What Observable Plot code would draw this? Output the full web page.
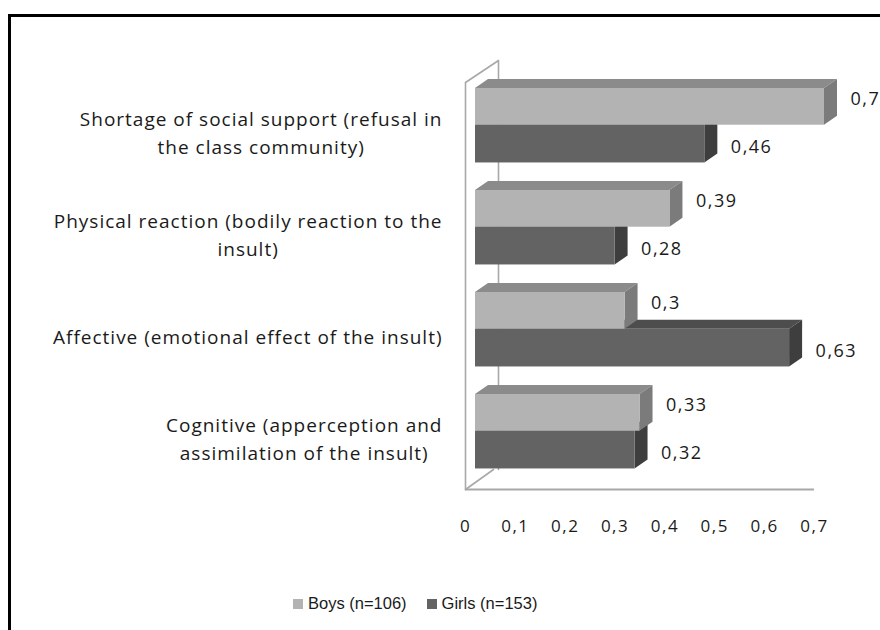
<!DOCTYPE html>
<html>
<head>
<meta charset="utf-8">
<script src="https://cdn.jsdelivr.net/npm/d3@7"></script>
<script src="https://cdn.jsdelivr.net/npm/@observablehq/plot@0.6"></script>
<style>
  html, body { margin: 0; padding: 0; background: #fff; }
  #page { position: relative; width: 880px; height: 630px; overflow: hidden; background: #fff; }
  #frame { position: absolute; left: 8px; top: 14px; width: 900px; height: 700px;
           border-left: 3px solid #000; border-top: 3px solid #000; box-sizing: border-box; }
  #chart { position: absolute; left: 0; top: 0; }
  #chart g[font-size="19"], #chart g[font-size="19"] text { letter-spacing: 1px; }
  #chart g[font-size="18"], #chart g[font-size="18"] text { letter-spacing: 1.5px; }
  #chart g[aria-label="x-axis tick label"] text, #chart g[aria-label="x-axis"] text { letter-spacing: 1.5px; }
  #legend { position: absolute; left: 293px; top: 594px; display: flex; align-items: center;
            font-family: "Liberation Sans Narrow", "Liberation Sans", sans-serif; font-size: 16.5px; color: #1a1a1a; }
  #legend .item { display: flex; align-items: center; margin-right: 20px; }
  #legend .sw { width: 10px; height: 10px; margin-right: 5px; }
</style>
</head>
<body>
<div id="page">
  <div id="frame"></div>
  <div id="chart"></div>
  <div id="legend"></div>
</div>
<script>
// ---- data ----
const categories = [
  "Shortage of social support (refusal in\nthe class community)",
  "Physical reaction (bodily reaction to the\ninsult)",
  "Affective (emotional effect of the insult)",
  "Cognitive (apperception and\nassimilation of the insult)"
];
const seriesNames = ["Boys (n=106)", "Girls (n=153)"];
const boys = [0.7, 0.39, 0.3, 0.33];
const girls = [0.46, 0.28, 0.63, 0.32];
const xTicks = [0, 0.1, 0.2, 0.3, 0.4, 0.5, 0.6, 0.7];

// ---- styling / layout ----
const colors = {
  boys: {front: "#b3b3b3", top: "#8b8b8b", side: "#7b7b7b"},
  girls: {front: "#636363", top: "#4d4d4d", side: "#3e3e3e"}
};
const FONT = '"Open Sans", "DejaVu Sans", sans-serif';
const X0 = 465, X1 = 814;           // pixel range for x domain [0, 0.7]
const Y0 = 88, KY = 102;            // pixel top of first category, px per category
const KX = (X1 - X0) / 0.7;
const px2x = p => (p - X0) / KX;
const px2y = p => (p - Y0) / KY;
const BAR_DX = 10;                  // bars sit slightly behind the floor edge
const DEPTH_X = 13 / KX, DEPTH_Y = 9 / KY;
const fmt = v => String(v).replace(".", ",");

// bars: girls first (drawn underneath), boys on top
const series = [
  {key: "girls", name: seriesNames[1], values: girls, off: 0.36, h: 0.37},
  {key: "boys", name: seriesNames[0], values: boys, off: 0, h: 0.36}
];

const marks = [];

// wall & floor lines (drawn behind)
const wallColor = "#a8a8a8";
marks.push(Plot.line([
  {x: px2x(465), y: px2y(489)}, {x: px2x(465), y: px2y(82)}, {x: px2x(498), y: px2y(60)}, {x: px2x(498), y: px2y(469)}
], {x: "x", y: "y", stroke: wallColor, strokeWidth: 1.6}));
marks.push(Plot.line([
  {x: px2x(465), y: px2y(489)}, {x: px2x(493), y: px2y(469)}
], {x: "x", y: "y", stroke: wallColor, strokeWidth: 1.6}));
marks.push(Plot.ruleY([px2y(489)], {x1: 0, x2: 0.7, stroke: wallColor, strokeWidth: 2}));

for (const s of series) {
  const bars = s.values.map((v, i) => ({id: s.key + i, v, top: i + s.off, bottom: i + s.off + s.h}));
  const topFace = bars.flatMap(b => [
    {id: b.id, x1: 0, y1: b.top, x2: DEPTH_X, y2: b.top - DEPTH_Y},
    {id: b.id, x1: b.v, y1: b.top, x2: b.v + DEPTH_X, y2: b.top - DEPTH_Y}
  ]);
  const sideFace = bars.flatMap(b => [
    {id: b.id, x1: b.v, y1: b.top, x2: b.v + DEPTH_X, y2: b.top - DEPTH_Y},
    {id: b.id, x1: b.v, y1: b.bottom, x2: b.v + DEPTH_X, y2: b.bottom - DEPTH_Y}
  ]);
  marks.push(Plot.area(topFace, {x1: "x1", y1: "y1", x2: "x2", y2: "y2", z: "id", fill: colors[s.key].top, dx: BAR_DX}));
  marks.push(Plot.area(sideFace, {x1: "x1", y1: "y1", x2: "x2", y2: "y2", z: "id", fill: colors[s.key].side, dx: BAR_DX}));
  marks.push(Plot.rect(bars, {x1: 0, x2: "v", y1: "top", y2: "bottom", fill: colors[s.key].front, dx: BAR_DX}));
}

// value labels
for (const s of series) {
  const labels = s.values.map((v, i) => ({v, y: i + s.off + s.h / 2}));
  marks.push(Plot.text(labels, {
    x: "v", y: "y", text: d => fmt(d.v), textAnchor: "start",
    dx: BAR_DX + 13 + 13, dy: s.key === "boys" ? -8 : 3,
    fontSize: 18, fill: "#1a1a1a", fontFamily: FONT
  }));
}

// category labels: block right-aligned at x=442, lines centred
const ctx = document.createElement("canvas").getContext("2d");
const CAT_FS = 19, CAT_LS = 1.0;
ctx.font = `${CAT_FS}px ${FONT}`;
categories.forEach((c, i) => {
  const w = Math.max(...c.split("\n").map(l => ctx.measureText(l).width + l.length * CAT_LS));
  marks.push(Plot.text([c], {
    x: 0, y: i + 0.42, text: d => d, textAnchor: "middle", lineAnchor: "middle",
    lineHeight: 1.47, dx: (442 - w / 2) - X0, fontSize: CAT_FS, fill: "#1a1a1a",
    fontFamily: FONT
  }));
});

const chart = Plot.plot({
  width: 880, height: 575,
  marginLeft: 0, marginRight: 0, marginTop: 0, marginBottom: 86,
  style: {fontFamily: FONT, fontSize: "17px", color: "#1a1a1a", background: "transparent", overflow: "visible"},
  x: {domain: [0, 0.7], range: [X0, X1], ticks: xTicks, tickFormat: fmt, tickSize: 0, tickPadding: 30, label: null},
  y: {domain: [0, 4], range: [Y0, Y0 + 4 * KY], axis: null},
  marks
});
document.getElementById("chart").appendChild(chart);

// legend
const legend = document.getElementById("legend");
[["boys", seriesNames[0]], ["girls", seriesNames[1]]].forEach(([k, name]) => {
  const it = document.createElement("div"); it.className = "item";
  const sw = document.createElement("div"); sw.className = "sw"; sw.style.background = colors[k].front;
  const tx = document.createElement("span"); tx.textContent = name;
  it.appendChild(sw); it.appendChild(tx); legend.appendChild(it);
});
</script>
</body>
</html>
